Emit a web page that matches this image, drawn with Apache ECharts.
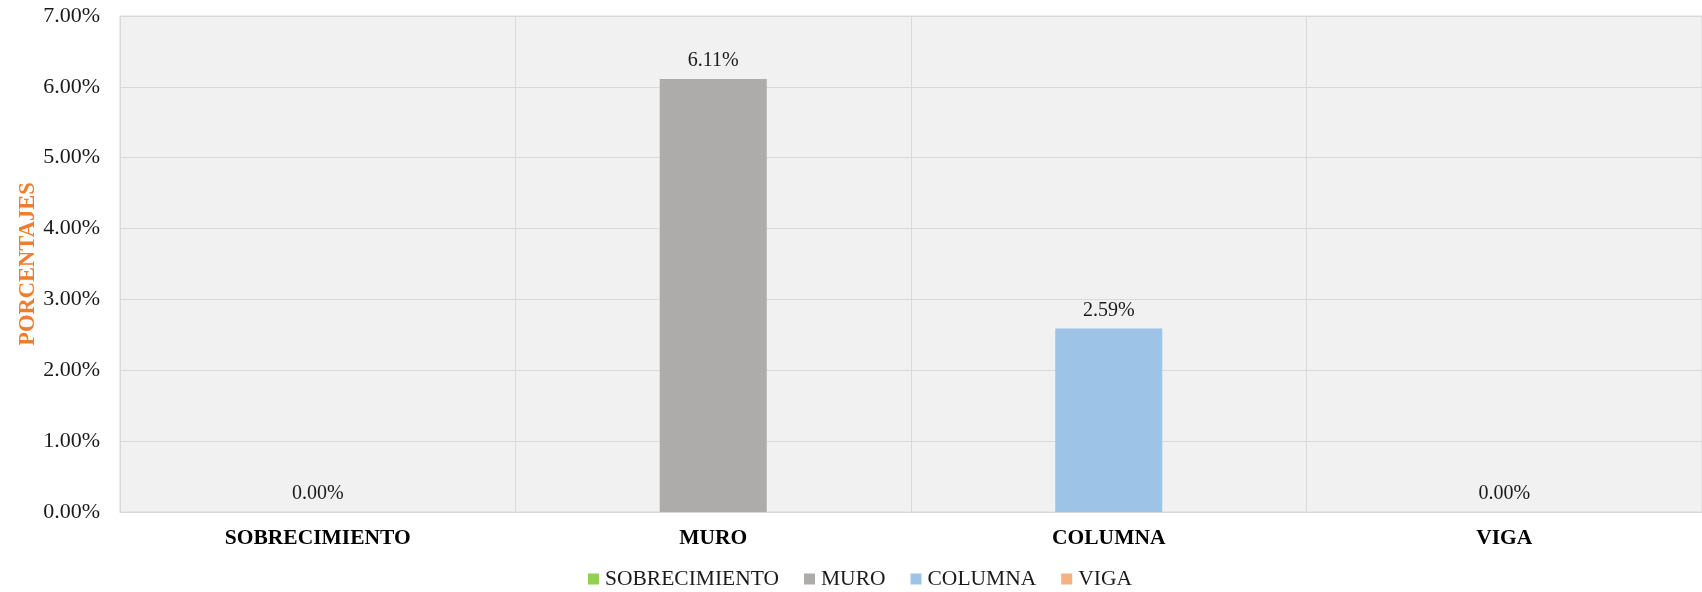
<!DOCTYPE html>
<html><head><meta charset="utf-8">
<script src="https://cdn.jsdelivr.net/npm/echarts@6/dist/echarts.min.js"></script>
<style>html,body{margin:0;padding:0;background:#fff}#c{width:1702px;height:592px}</style>
</head><body><div id="c"></div>
<script>
const categories = ['SOBRECIMIENTO', 'MURO', 'COLUMNA', 'VIGA'];
const values = [0.00, 6.11, 2.59, 0.00];
const colors = ['#92D050', '#AEABAB', '#9DC3E6', '#F4B183'];
const yTicks = [0, 1, 2, 3, 4, 5, 6, 7];
const FONT = '"Liberation Serif", "Times New Roman", serif';

const series = categories.map((name, i) => ({
  name: name,
  type: 'bar',
  stack: 'all',
  barWidth: 107,
  itemStyle: { color: colors[i] },
  data: values.map((v, j) => (j === i ? v : null)),
  label: {
    show: true, position: 'top', distance: 8,
    fontFamily: FONT, fontSize: 20, color: '#1a1a1a',
    formatter: p => p.value.toFixed(2) + '%'
  }
}));

const chart = echarts.init(document.getElementById('c'), null, { renderer: 'canvas' });
chart.setOption({
  animation: false,
  textStyle: { fontFamily: FONT },
  grid: {
    left: 120, right: 0, top: 16, bottom: 80,
    show: true, backgroundColor: '#F1F1F1', borderColor: '#D9D9D9', borderWidth: 1
  },
  legend: {
    top: 563, left: 583, itemWidth: 11, itemHeight: 11, itemGap: 25,
    icon: 'rect',
    textStyle: { fontFamily: FONT, fontSize: 21.5, color: '#1a1a1a', padding: [0, 0, 0, 1] },
    data: categories
  },
  xAxis: {
    type: 'category', data: categories,
    axisLine: { show: true, lineStyle: { color: '#D9D9D9' } },
    axisTick: { show: false },
    splitLine: { show: true, lineStyle: { color: '#D9D9D9', width: 1 } },
    axisLabel: { fontFamily: FONT, fontSize: 21.5, fontWeight: 'bold', color: '#000', margin: 15 }
  },
  yAxis: {
    type: 'value', min: yTicks[0], max: yTicks[yTicks.length - 1], interval: 1,
    name: 'PORCENTAJES', nameLocation: 'middle', nameGap: 80, nameMoveOverlap: false,
    nameTextStyle: { fontFamily: FONT, fontSize: 22.5, fontWeight: 'bold', color: '#ED7D31' },
    axisLine: { show: false }, axisTick: { show: false },
    splitLine: { lineStyle: { color: '#D9D9D9', width: 1 } },
    axisLabel: { fontFamily: FONT, fontSize: 22, color: '#1a1a1a', margin: 20,
      formatter: v => v.toFixed(2) + '%' }
  },
  series: series
});
</script></body></html>
